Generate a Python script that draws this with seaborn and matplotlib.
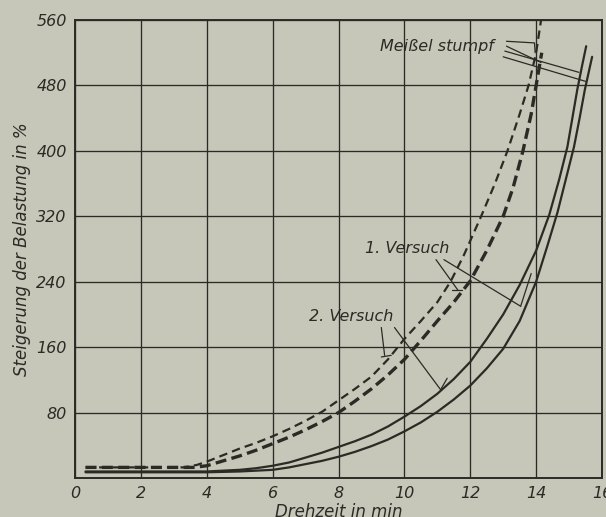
import matplotlib
matplotlib.use("Agg")
import matplotlib.pyplot as plt
import pandas as pd
import seaborn as sns

# Drehzeit (min) / Steigerung der Belastung (%)
thin_dash_x = [0.32, 3.3, 3.7, 4.0, 4.5, 5.0, 5.5, 6.0, 6.5, 7.0, 7.5, 8.0, 8.5, 9.0, 9.5,
               10.0, 10.5, 11.0, 11.4, 11.8, 12.33, 12.75, 13.13, 13.5, 13.77, 14.0, 14.15]
thin_dash_y = [13, 13, 16, 20, 28, 36, 43, 51, 60, 70, 81, 95, 109, 124, 145,
               170, 192, 215, 240, 272, 320, 360, 400, 445, 480, 520, 560]

thick_dash_x = [0.32, 3.6, 4.0, 4.5, 5.0, 5.5, 6.0, 6.5, 7.0, 7.5, 8.0, 8.5, 9.0, 9.5, 10.0,
                10.5, 11.0, 11.5, 12.0, 12.5, 13.0, 13.3, 13.6, 13.85, 14.0, 14.17]
thick_dash_y = [13, 13, 15, 21, 27, 34, 42, 50, 59, 69, 80, 94, 109, 126, 145,
                168, 192, 215, 241, 278, 320, 355, 400, 445, 480, 520]

upper_solid_x = [0.32, 4.0, 4.5, 5.0, 5.5, 6.0, 6.5, 7.0, 7.5, 8.0, 8.5, 9.0, 9.5, 10.0, 10.5,
                 11.0, 11.5, 12.0, 12.5, 13.0, 13.5, 14.0, 14.4, 14.7, 14.95, 15.1, 15.25,
                 15.4, 15.52]
upper_solid_y = [8, 8, 9, 10, 12, 15, 19, 25, 31, 38, 45, 53, 63, 75, 88,
                 103, 121, 142, 170, 200, 236, 278, 322, 365, 405, 440, 475,
                 505, 528]

lower_solid_x = [0.32, 4.0, 5.0, 5.5, 6.0, 6.5, 7.0, 7.5, 8.0, 8.5, 9.0, 9.5, 10.0, 10.5, 11.0,
                 11.5, 12.0, 12.5, 13.0, 13.5, 14.0, 14.35, 14.65, 14.9, 15.15, 15.32, 15.48,
                 15.7]
lower_solid_y = [7, 7, 8, 9, 10, 13, 17, 21, 26, 32, 39, 47, 57, 68, 81,
                 96, 113, 134, 158, 192, 240, 285, 325, 365, 405, 440, 475,
                 515]

x_ticks = [0, 2, 4, 6, 8, 10, 12, 14, 16]
y_ticks = [80, 160, 240, 320, 400, 480, 560]

INK = "#2b2b25"
PAPER = "#c6c7b9"
FONT = ["Liberation Sans Narrow", "DejaVu Sans"]

sns.set_theme(style="white")
plt.rcParams["font.family"] = FONT

fig = plt.figure(figsize=(6.06, 5.17), dpi=100, facecolor=PAPER)
ax = fig.add_axes([0.1238, 0.0754, 0.8696, 0.8859])
ax.set_facecolor(PAPER)

curves = [
    (thin_dash_x, thin_dash_y, 1.6, (0, (3.8, 2.3))),
    (thick_dash_x, thick_dash_y, 2.4, (0, (3.3, 1.6))),
    (upper_solid_x, upper_solid_y, 1.6, "-"),
    (lower_solid_x, lower_solid_y, 1.6, "-"),
]
for xs, ys, lw, ls in curves:
    df = pd.DataFrame({"t": xs, "p": ys})
    sns.lineplot(data=df, x="t", y="p", ax=ax, color=INK, linewidth=lw,
                 linestyle=ls, sort=False, estimator=None, clip_on=True)

ax.set_xlim(0, 16)
ax.set_ylim(0, 560)
ax.set_xticks(x_ticks)
ax.set_yticks(y_ticks)
ax.set_xticklabels([str(v) for v in x_ticks], fontstyle="italic", fontsize=11.5)
ax.set_yticklabels([str(v) for v in y_ticks], fontstyle="italic", fontsize=11.5)
ax.tick_params(length=0, colors=INK, pad=6)
ax.grid(True, color=INK, linewidth=0.95)
for s in ax.spines.values():
    s.set_color(INK)
    s.set_linewidth(1.4)

ax.set_xlabel("Drehzeit in min", fontstyle="italic", fontsize=12, color=INK, labelpad=1)
ax.set_ylabel("Steigerung der Belastung in %", fontstyle="italic", fontsize=12,
              color=INK, labelpad=4)

# leader lines and labels
ann = dict(color=INK, linewidth=0.9, clip_on=False)
ax.text(11.0, 528, "Meißel stumpf", fontstyle="italic", fontsize=11.5, color=INK,
        ha="center", va="center")
ax.plot([13.1, 13.95, 13.97], [534, 532, 520], **ann)
ax.plot([13.1, 14.15], [528, 508], **ann)
ax.plot([13.05, 15.3], [522, 496], **ann)
ax.plot([13.0, 15.5], [515, 485], **ann)

ax.text(10.1, 281, "1. Versuch", fontstyle="italic", fontsize=11.5, color=INK,
        ha="center", va="center")
ax.plot([10.96, 11.62], [267, 230], **ann)
ax.plot([11.45, 11.75], [230, 230], **ann)
ax.plot([11.2, 13.53], [267, 210], **ann)
ax.plot([13.53, 13.85], [210, 250], **ann)

ax.text(8.4, 197, "2. Versuch", fontstyle="italic", fontsize=11.5, color=INK,
        ha="center", va="center")
ax.plot([9.3, 9.4], [184, 150], **ann)
ax.plot([9.3, 9.6], [148, 150], **ann)
ax.plot([9.7, 11.1], [184, 108], **ann)
ax.plot([11.1, 11.3], [108, 122], **ann)

fig.savefig("out.png", dpi=100, facecolor=PAPER)
